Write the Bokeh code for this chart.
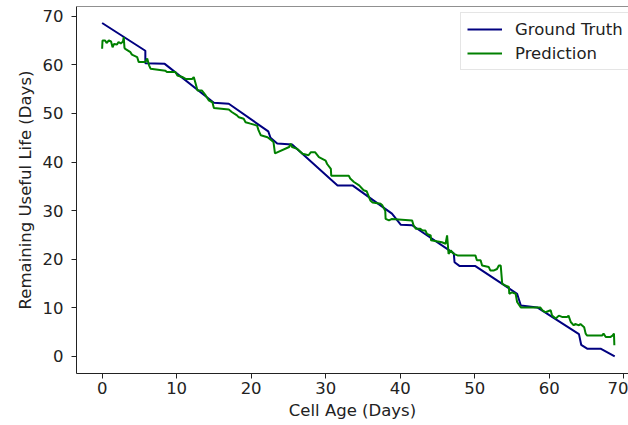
from bokeh.plotting import figure
from bokeh.models import Range1d, Span, FixedTicker
from bokeh.embed import file_html
from bokeh.resources import INLINE

# Ground truth RUL vs cell age
gt_age = [0.0, 5.8, 5.8, 8.4, 15.0, 17.0, 22.3, 22.6, 23.5, 25.5, 30.7, 31.6, 33.6,
          38.9, 40.1, 41.6, 47.2, 47.3, 48.0, 50.1, 55.7, 56.2, 58.4, 64.0, 64.3,
          65.1, 66.9, 68.8]
gt_rul = [68.6, 62.9, 60.3, 60.2, 52.2, 52.0, 46.3, 45.0, 43.8, 43.6, 36.4, 35.2, 35.2,
          29.4, 27.1, 27.0, 21.2, 19.4, 18.6, 18.6, 12.9, 10.5, 10.1, 4.6, 2.4,
          1.6, 1.6, 0.0]

# Predicted RUL vs cell age
pred_age = [0.0, 0.05, 0.4, 0.6, 0.9, 1.2, 1.4, 1.6, 2.0, 2.2, 2.5, 2.8, 2.9, 3.0, 3.1,
            3.8, 4.0, 4.7, 4.9, 5.8, 6.05, 6.3, 6.5, 8.5, 8.7, 9.85, 10.1, 10.75, 11.2,
            12.1, 12.3, 12.5, 12.8, 13.4, 13.9, 14.3, 14.8, 15.0, 17.0, 17.4, 18.1, 18.35,
            19.0, 19.25, 19.9, 20.8, 21.0, 21.3, 22.2, 22.8, 23.0, 23.2, 25.1, 25.3, 25.5,
            26.2, 26.9, 27.7, 28.0, 28.6, 29.1, 30.0, 30.2, 30.7, 30.75, 33.1, 33.3, 33.8,
            34.5, 35.1, 35.5, 36.0, 36.3, 37.4, 37.6, 38.0, 38.05, 38.5, 38.9, 41.6, 41.8,
            42.1, 42.7, 43.0, 43.4, 43.6, 44.1, 44.15, 45.6, 46.1, 46.3, 46.5, 46.8, 47.2,
            47.7, 50.1, 50.3, 50.8, 51.0, 51.9, 52.1, 52.6, 53.0, 53.25, 53.5, 53.7, 54.1,
            54.6, 54.65, 55.0, 55.5, 55.7, 56.2, 58.8, 59.1, 59.5, 60.2, 60.4, 60.9, 61.3,
            61.8, 62.4, 62.6, 62.9, 63.3, 63.5, 64.0, 64.2, 64.7, 64.9, 65.1, 67.1, 67.3,
            67.6, 68.2, 68.5, 68.7, 68.75]
pred_rul = [63.3, 65.0, 65.0, 64.5, 65.0, 64.8, 63.6, 64.3, 64.2, 64.7, 64.4, 64.8, 65.7, 63.5, 63.3,
            62.6, 62.1, 61.6, 60.6, 60.6, 61.3, 59.9, 59.2, 58.8, 58.5, 58.5, 57.8, 57.5, 57.1,
            57.1, 57.5, 56.4, 54.7, 54.7, 53.7, 52.7, 52.3, 51.1, 50.8, 50.3, 49.6, 49.2,
            48.9, 48.2, 47.9, 47.5, 46.5, 45.5, 45.1, 44.4, 44.1, 41.8, 43.1, 43.8, 43.1,
            42.7, 41.7, 41.4, 42.0, 42.0, 41.0, 40.3, 39.6, 38.6, 37.2, 37.2, 36.6, 35.9,
            35.2, 34.2, 34.0, 32.1, 31.7, 31.4, 31.1, 30.0, 28.3, 28.0, 28.3, 28.0, 27.0,
            26.3, 26.3, 25.9, 25.9, 25.2, 24.9, 23.9, 23.5, 23.2, 24.9, 21.1, 21.8, 21.1,
            20.8, 20.8, 19.8, 19.8, 18.7, 18.4, 17.7, 17.7, 18.0, 18.7, 18.7, 15.0, 14.6,
            14.3, 12.9, 13.2, 12.9, 11.2, 10.1, 10.1, 9.5, 9.1, 9.5, 8.4, 7.8, 8.4,
            8.1, 8.1, 8.4, 7.1, 6.4, 6.7, 6.4, 6.7, 6.0, 4.7, 4.3, 4.3, 4.7,
            4.0, 4.0, 4.3, 4.7, 2.3]

x_ticks = [0, 10, 20, 30, 40, 50, 60, 70]
y_ticks = [0, 10, 20, 30, 40, 50, 60, 70]

FONT = "DejaVu Sans"
FS = "16.5px"
Y_END = 72.0

p = figure(width=628, height=425, output_backend="svg", toolbar_location=None,
           x_range=Range1d(-3.44, 70.65), y_range=Range1d(-3.5, Y_END),
           min_border_left=76, min_border_right=0, min_border_top=6, min_border_bottom=52,
           background_fill_color="white", border_fill_color="white")
p.outline_line_color = None
p.xgrid.visible = False
p.ygrid.visible = False

p.line(gt_age, gt_rul, line_color="#000080", line_width=2, legend_label="Ground Truth")
p.line(pred_age, pred_rul, line_color="#008000", line_width=2, legend_label="Prediction")

p.add_layout(Span(location=Y_END, dimension="width", line_color="#222222", line_width=1))

for ax, ticks in ((p.xaxis[0], x_ticks), (p.yaxis[0], y_ticks)):
    ax.ticker = FixedTicker(ticks=ticks)
    ax.minor_tick_line_color = None
    ax.major_tick_in = 0
    ax.major_tick_out = 5
    ax.axis_line_color = "#222222"
    ax.major_tick_line_color = "#222222"
    ax.major_label_text_font = FONT
    ax.major_label_text_font_size = FS
    ax.major_label_text_color = "#222222"
    ax.axis_label_text_font = FONT
    ax.axis_label_text_font_size = FS
    ax.axis_label_text_font_style = "normal"
    ax.axis_label_text_color = "#222222"

p.xaxis.axis_label = "Cell Age (Days)"
p.yaxis.axis_label = "Remaining Useful Life (Days)"
p.xaxis.major_label_standoff = 3
p.xaxis.axis_label_standoff = 4
p.yaxis.major_label_standoff = 8
p.yaxis.axis_label_standoff = 5

lg = p.legend[0]
lg.location = (384, 303)
lg.padding = 6
lg.spacing = 4
lg.margin = 0
lg.glyph_width = 35
lg.glyph_height = 20
lg.label_height = 20
lg.label_standoff = 13
lg.label_text_font = FONT
lg.label_text_font_size = FS
lg.label_text_color = "#222222"
lg.border_line_color = "#cccccc"
lg.border_line_width = 1
lg.background_fill_alpha = 0.8

open("out.html", "w").write(file_html(p, INLINE))
